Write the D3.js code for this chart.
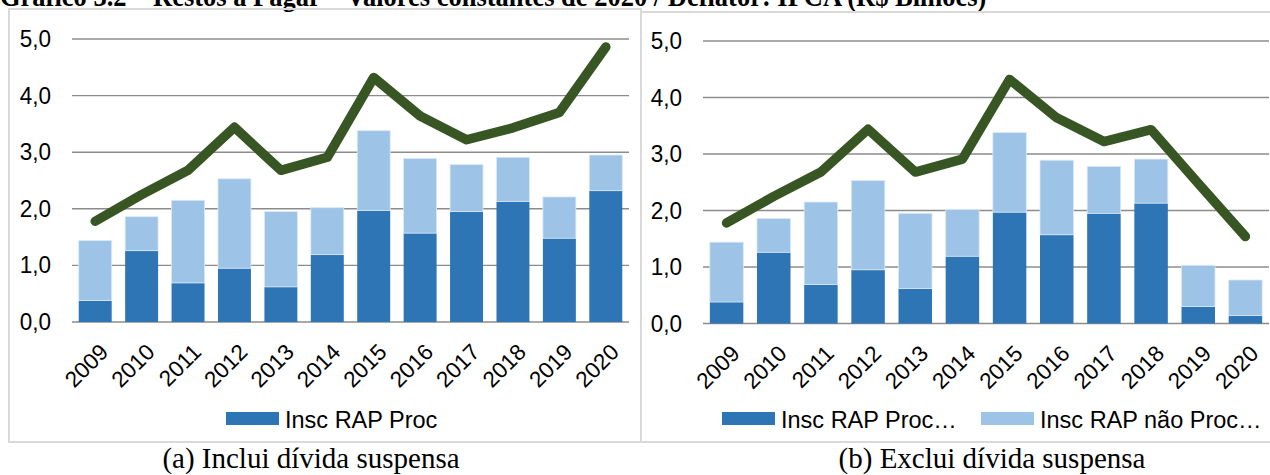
<!DOCTYPE html>
<html>
<head>
<meta charset="utf-8">
<script src="https://cdn.jsdelivr.net/npm/d3@7"></script>
<style>
  body { margin: 0; background: #fff; }
  svg { display: block; }
</style>
</head>
<body>
<svg id="chart" width="1270" height="475"></svg>
<script>
// data, R$ bilhoes (valores constantes de 2020)
var years = ["2009","2010","2011","2012","2013","2014","2015","2016","2017","2018","2019","2020"];
var procA = [0.38,1.26,0.69,0.95,0.62,1.19,1.97,1.57,1.95,2.13,1.48,2.32];
var naoProcA = [1.06,0.60,1.46,1.58,1.33,0.83,1.41,1.32,0.83,0.78,0.73,0.63];
var totalA = [1.78,2.25,2.68,3.44,2.68,2.91,4.32,3.64,3.22,3.43,3.70,4.86];
var procB = [0.38,1.26,0.69,0.95,0.62,1.19,1.97,1.57,1.95,2.13,0.30,0.14];
var naoProcB = [1.06,0.60,1.46,1.58,1.33,0.83,1.41,1.32,0.83,0.78,0.73,0.63];
var totalB = [1.78,2.25,2.68,3.44,2.68,2.91,4.32,3.64,3.22,3.43,2.48,1.54];
var yTicks = [0,1,2,3,4,5];

var darkBlue = "#2E75B6", lightBlue = "#9DC3E6", green = "#375623";
var sans = "Liberation Sans, Arial, sans-serif";
var serif = "Liberation Serif, Times New Roman, serif";
var svg = d3.select("#chart");

// titulo (cortado no topo como na imagem original)
svg.append("text")
  .attr("transform", "translate(0,6) scale(1,1.1)")
  .attr("font-family", serif)
  .attr("font-weight", "bold")
  .attr("font-size", 26.5)
  .text("Gráfico 3.2 – Restos a Pagar – Valores constantes de 2020 / Deflator: IPCA (R$ Bilhões)");

function drawPanel(opt) {
  var g = svg.append("g");
  // moldura
  g.append("rect")
    .attr("x", opt.box[0]).attr("y", opt.box[1])
    .attr("width", opt.box[2]).attr("height", opt.box[3])
    .attr("fill", "none").attr("stroke", "#d9d9d9").attr("stroke-width", 2);

  var x = d3.scaleBand().domain(years).range([opt.x0, opt.x1]).paddingInner(0.29).paddingOuter(0.145);
  var y = d3.scaleLinear().domain([0, 5]).range([opt.y0, opt.y5]);

  g.selectAll(".grid").data(yTicks).enter().append("line")
    .attr("x1", opt.x0).attr("x2", opt.x1)
    .attr("y1", function(d){ return y(d); }).attr("y2", function(d){ return y(d); })
    .attr("stroke", "#8c8c8c").attr("stroke-width", 1.4);

  g.selectAll(".ylab").data(yTicks).enter().append("text")
    .attr("transform", function(d){ return "translate(" + (opt.x0 - 21) + "," + (y(d) + 8) + ") scale(1,1.08)"; })
    .attr("text-anchor", "end")
    .attr("font-family", sans)
    .attr("font-size", 22.5)
    .text(function(d){ return d3.format(".1f")(d).replace(".", ","); });

  // barras empilhadas
  var stacked = years.map(function(yr, i){ return {yr: yr, p: opt.proc[i], n: opt.naoProc[i]}; });
  g.selectAll(".barP").data(stacked).enter().append("rect")
    .attr("x", function(d){ return x(d.yr); })
    .attr("width", x.bandwidth())
    .attr("y", function(d){ return y(d.p); })
    .attr("height", function(d){ return y(0) - y(d.p); })
    .attr("fill", darkBlue);
  g.selectAll(".barN").data(stacked).enter().append("rect")
    .attr("x", function(d){ return x(d.yr); })
    .attr("width", x.bandwidth())
    .attr("y", function(d){ return y(d.p + d.n); })
    .attr("height", function(d){ return y(d.p) - y(d.p + d.n); })
    .attr("fill", lightBlue)
    .attr("stroke", "#dbe9f6").attr("stroke-width", 0.8);

  var line = d3.line()
    .x(function(d, i){ return x(years[i]) + x.bandwidth() / 2; })
    .y(function(d){ return y(d); });
  g.append("path")
    .datum(opt.total)
    .attr("d", line)
    .attr("fill", "none")
    .attr("stroke", green)
    .attr("stroke-width", 9.5)
    .attr("stroke-linecap", "round")
    .attr("stroke-linejoin", "round");

  // rotulos do eixo x
  g.selectAll(".xlab").data(years).enter().append("text")
    .attr("transform", function(d){
      return "translate(" + (x(d) + x.bandwidth() / 2 + 3) + "," + (opt.y0 + 20) + ") rotate(-45)";
    })
    .attr("text-anchor", "end")
    .attr("dy", "0.72em")
    .attr("font-family", sans)
    .attr("font-size", 22.5)
    .text(function(d){ return d; });

  // legenda
  opt.legend.forEach(function(l){
    g.append("rect").attr("x", l.x).attr("y", 412).attr("width", 53).attr("height", 13).attr("fill", l.color);
    g.append("text")
      .attr("x", l.x + 59).attr("y", 428)
      .attr("font-family", sans)
      .attr("font-size", 23.5)
      .text(l.label);
  });

  svg.append("text")
    .attr("x", opt.capX).attr("y", 468)
    .attr("text-anchor", "middle")
    .attr("font-family", serif)
    .attr("font-size", 29)
    .text(opt.caption);
}

drawPanel({
  box: [9, 9, 632, 433], x0: 72, x1: 629, y0: 322, y5: 39,
  proc: procA, naoProc: naoProcA, total: totalA,
  legend: [{x: 226, color: darkBlue, label: "Insc RAP Proc"}],
  caption: "(a) Inclui dívida suspensa", capX: 311
});
drawPanel({
  box: [641, 12, 640, 430], x0: 703, x1: 1269, y0: 323.5, y5: 41,
  proc: procB, naoProc: naoProcB, total: totalB,
  legend: [{x: 722, color: darkBlue, label: "Insc RAP Proc…"},
           {x: 981, color: lightBlue, label: "Insc RAP não Proc…"}],
  caption: "(b) Exclui dívida suspensa", capX: 992
});
</script>
</body>
</html>
